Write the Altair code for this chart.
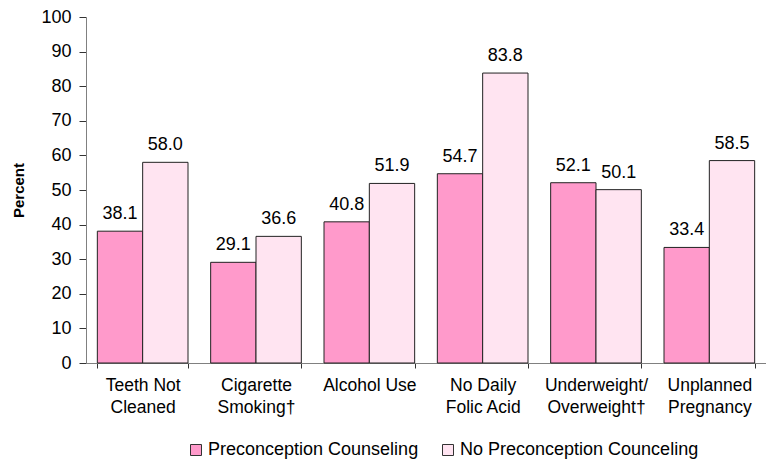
import altair as alt
import pandas as pd

categories = ["Teeth Not|Cleaned", "Cigarette|Smoking†", "Alcohol Use", "No Daily|Folic Acid",
              "Underweight/|Overweight†", "Unplanned|Pregnancy"]
series = ["Preconception Counseling", "No Preconception Counceling"]
counseling = [38.1, 29.1, 40.8, 54.7, 52.1, 33.4]
no_counseling = [58.0, 36.6, 51.9, 83.8, 50.1, 58.5]

rows = []
for c, a, b in zip(categories, counseling, no_counseling):
    rows.append({"cat": c, "series": series[0], "value": a})
    rows.append({"cat": c, "series": series[1], "value": b})
df = pd.DataFrame(rows)

FONT = "Liberation Sans"

x = alt.X("cat:N", sort=categories, title=None,
          scale=alt.Scale(paddingInner=0.2, paddingOuter=0.1),
          axis=alt.Axis(labelExpr="split(datum.label, '|')", labelAngle=0,
                        tickBand="extent", labelFontSize=17.5, labelFont=FONT,
                        labelColor="black", domainColor="#808080", tickColor="#333333",
                        tickSize=5, labelPadding=8, labelLineHeight=22,
                        labelBaseline="top"))
xo = alt.XOffset("series:N", sort=series)
y = alt.Y("value:Q", title="Percent",
          scale=alt.Scale(domain=[0, 100]),
          axis=alt.Axis(values=list(range(0, 101, 10)), grid=False,
                        labelFontSize=18, labelFont=FONT, labelColor="black",
                        titleFont=FONT, titleFontSize=15, titleFontWeight="bold",
                        titleColor="black", domainColor="#808080", tickColor="#333333",
                        tickSize=7, labelPadding=8, titlePadding=14))

color = alt.Color("series:N", sort=series, title=None,
                  scale=alt.Scale(domain=series, range=["#FF9ACB", "#FFE4F1"]),
                  legend=alt.Legend(orient="none", legendX=101, legendY=424,
                                    direction="horizontal", padding=0,
                                    labelFontSize=18, labelFont=FONT, labelColor="black",
                                    symbolType="square", symbolSize=121,
                                    symbolStrokeColor="#333333", symbolStrokeWidth=1,
                                    columnPadding=20, labelOffset=3, labelLimit=400))

bars = alt.Chart(df).mark_bar(stroke="#222222", strokeWidth=1).encode(
    x=x, xOffset=xo, y=y, color=color)

text = alt.Chart(df).mark_text(dy=-12, baseline="alphabetic", fontSize=18, font=FONT,
                               color="black").encode(
    x=x, xOffset=xo, y=y, text=alt.Text("value:Q", format=".1f"))

chart = (bars + text).properties(
    width=680, height=346,
    padding={"top": 0, "left": 3, "right": 0, "bottom": 0},
).configure_view(stroke=None)

chart.save("out.html", embed_options={"renderer": "svg", "actions": False})
